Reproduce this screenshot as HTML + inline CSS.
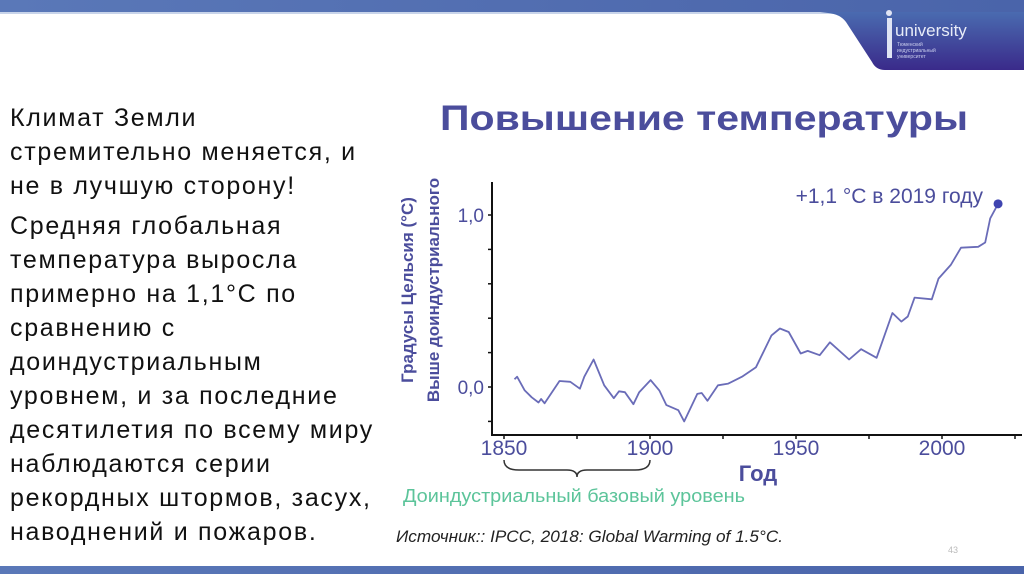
<!DOCTYPE html>
<html><head><meta charset="utf-8">
<style>
html,body{margin:0;padding:0;background:#fff;}
body{width:1024px;height:574px;overflow:hidden;position:relative;font-family:"Liberation Sans","DejaVu Sans",sans-serif;}
.txt{position:absolute;left:10px;top:101px;font-size:25px;letter-spacing:1.7px;line-height:34px;color:#111;width:400px;}
.txt p{margin:0 0 6px 0;white-space:nowrap;}
</style></head>
<body>
<svg width="1024" height="574" style="position:absolute;left:0;top:0">
  <defs>
    <linearGradient id="tab" x1="0" y1="0" x2="0" y2="1">
      <stop offset="0" stop-color="#4a6bb0"/><stop offset="1" stop-color="#3a2a8a"/>
    </linearGradient>
    <linearGradient id="band" x1="0" y1="0" x2="1" y2="0">
      <stop offset="0" stop-color="#5a78b8"/><stop offset="1" stop-color="#4a64aa"/>
    </linearGradient>
  </defs>
  <rect x="0" y="0" width="1024" height="12" fill="url(#band)"/>
  <rect x="0" y="12" width="1024" height="2" fill="#c8d4ea"/>
  <path d="M820 12 L1024 12 L1024 70 L885 70 Q876 70 872 62 L846 22 Q840 14 828 13 Z" fill="url(#tab)"/>
  <rect x="887" y="18" width="5" height="40" fill="#e0e4f4"/>
  <circle cx="889" cy="13" r="3" fill="#e0e4f4"/>
  <text x="895" y="36" font-size="17" fill="#e8ecf8" font-family="Liberation Sans, sans-serif">university</text>
  <text x="897" y="46" font-size="5" fill="#c8ccec">Тюменский</text>
  <text x="897" y="52" font-size="5" fill="#c8ccec">индустриальный</text>
  <text x="897" y="58" font-size="5" fill="#c8ccec">университет</text>
  <rect x="0" y="566" width="1024" height="8" fill="url(#band)"/>
  <text x="948" y="553" font-size="9" fill="#bbb">43</text>
</svg>

<div class="txt">
<p>Климат Земли<br>стремительно меняется, и<br>не в лучшую сторону!</p>
<p>Средняя глобальная<br>температура выросла<br>примерно на 1,1°С по<br>сравнению с<br>доиндустриальным<br>уровнем, и за последние<br>десятилетия по всему миру<br>наблюдаются серии<br>рекордных штормов, засух,<br>наводнений и пожаров.</p>
</div>

<svg id="chart" width="1024" height="574" style="position:absolute;left:0;top:0"></svg>

<script>
const years = [1853.6,1854.5,1857.1,1859.5,1861.8,1862.7,1863.9,1869,1872.7,1876,1877.5,1880.7,1884.3,1887.6,1889.4,1891.4,1894.3,1896.3,1900.2,1903.2,1905.6,1909.7,1911.7,1916.2,1917.7,1919.7,1923.3,1926.8,1931.5,1936.3,1941.6,1944.5,1947.5,1951.6,1954,1958.1,1961.6,1968.2,1972.3,1977.6,1983,1986.1,1988.3,1990.6,1996.5,1998.8,2003,2006.5,2012.4,2014.8,2016.5,2019.2];
const temps = [0.045,0.06,-0.02,-0.06,-0.09,-0.07,-0.095,0.035,0.03,-0.01,0.06,0.16,0.01,-0.065,-0.025,-0.03,-0.10,-0.03,0.04,-0.02,-0.105,-0.135,-0.2,-0.04,-0.035,-0.08,0.01,0.02,0.06,0.115,0.30,0.34,0.32,0.195,0.21,0.185,0.26,0.16,0.22,0.17,0.43,0.38,0.41,0.52,0.51,0.63,0.71,0.81,0.815,0.84,0.98,1.065];
const xTicks = [1850,1875,1900,1925,1950,1975,2000,2025];
const xLabels = [1850,1900,1950,2000];
const yTicks = [-0.2,0,0.2,0.4,0.6,0.8,1.0];
const yLabels = [0,1];

const svg = document.getElementById('chart');
const NS = 'http://www.w3.org/2000/svg';
const X = y => 504 + (y - 1850) * 2.92;
const Y = v => 387 - v * 172;
const C = '#4b4d9c';
function mk(tag, attrs, txt){const e=document.createElementNS(NS,tag);for(const k in attrs)e.setAttribute(k,attrs[k]);if(txt!==undefined)e.textContent=txt;svg.appendChild(e);return e;}

let t = mk('text',{x:440,y:130,'font-size':35,'font-weight':'bold',fill:C,textLength:528,lengthAdjust:'spacingAndGlyphs'},'Повышение температуры');



let ax = mk('line',{x1:492,y1:182,x2:492,y2:436,stroke:'#111','stroke-width':2});


let bx = mk('line',{x1:491,y1:435,x2:1022,y2:435,stroke:'#111','stroke-width':2});



yTicks.forEach(v=>{
  const l = mk('line',{x1:488,y1:Y(v),x2:492,y2:Y(v),stroke:'#111','stroke-width':1.5});
  
  
});
yLabels.forEach(v=>{
  const l = mk('text',{x:484,y:Y(v)+7,'font-size':19,fill:C,'text-anchor':'end'},v.toFixed(1).replace('.',','));
  
  
});
xTicks.forEach(y=>{
  const l = mk('line',{x1:X(y),y1:435,x2:X(y),y2:439,stroke:'#111','stroke-width':1.5});
  
  
});
xLabels.forEach(y=>{
  const l = mk('text',{x:X(y),y:455,'font-size':21,fill:C,'text-anchor':'middle'},String(y));
  
  
});

let xt = mk('text',{x:758,y:481,'font-size':22,'font-weight':'bold',fill:C,'text-anchor':'middle'},'Год');



const g = mk('g',{transform:'translate(0,0)'});


[['Градусы Цельсия (°С)',413],['Выше доиндустриального',439]].forEach(([s,x])=>{
  const e=document.createElementNS(NS,'text');
  e.setAttribute('x',x);e.setAttribute('y',290);e.setAttribute('font-size',17);e.setAttribute('font-weight','bold');
  e.setAttribute('fill',C);e.setAttribute('text-anchor','middle');e.setAttribute('transform',`rotate(-90 ${x} 290)`);
  e.textContent=s;g.appendChild(e);
});

let d = years.map((y,i)=>(i?'L':'M')+X(y).toFixed(1)+' '+Y(temps[i]).toFixed(1)).join(' ');
let p = mk('path',{d:d,fill:'none',stroke:'#6a6cb8','stroke-width':1.8,'stroke-linejoin':'round'});


const li = years.length-1;
let dot = mk('circle',{cx:X(years[li]),cy:Y(temps[li]),r:4.5,fill:'#3f44b0'});


let ann = mk('text',{x:983,y:203,'font-size':21,fill:C,'text-anchor':'end'},'+1,1 °С в 2019 году');



let br = mk('path',{d:`M${X(1850)} 460 Q${X(1850)} 470 ${X(1850)+15} 470 L${X(1875)-10} 470 Q${X(1875)} 470 ${X(1875)} 477 Q${X(1875)} 470 ${X(1875)+10} 470 L${X(1900)-15} 470 Q${X(1900)} 470 ${X(1900)} 460`,fill:'none',stroke:'#333','stroke-width':1.5});


let bl = mk('text',{x:403,y:502,'font-size':18,fill:'#5cc49a',textLength:342,lengthAdjust:'spacingAndGlyphs'},'Доиндустриальный базовый уровень');


let src = mk('text',{x:396,y:542,'font-size':17,'font-style':'italic',fill:'#222',textLength:387,lengthAdjust:'spacingAndGlyphs'},'Источник:: IPCC, 2018: Global Warming of 1.5°C.');


</script>
</body></html>
